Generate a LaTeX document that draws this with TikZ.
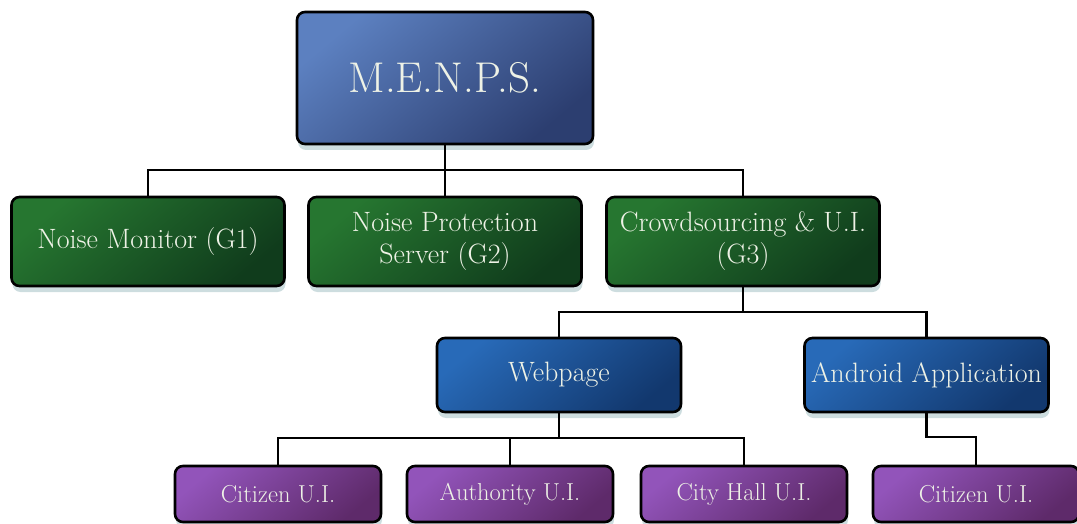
\documentclass[tikz,border=0pt]{standalone}
\usepackage{fontspec}
\usepackage{tikz}
\usetikzlibrary{shadows}

\definecolor{topA}{RGB}{92,128,192}
\definecolor{topB}{RGB}{44,62,112}
\definecolor{grnA}{RGB}{38,118,48}
\definecolor{grnB}{RGB}{16,60,28}
\definecolor{bluA}{RGB}{40,106,184}
\definecolor{bluB}{RGB}{18,56,110}
\definecolor{purA}{RGB}{146,84,186}
\definecolor{purB}{RGB}{94,42,106}
\definecolor{txt}{RGB}{238,242,230}
\definecolor{shd}{RGB}{130,170,175}

\tikzset{
  box/.style={draw=black, line width=2.6pt, rounded corners=8pt, inner sep=0pt,
    text=txt, align=center,
    drop shadow={shadow xshift=1pt, shadow yshift=-6pt, opacity=0.4, fill=shd}},
  topbox/.style={box, top color=topA, bottom color=topB, shading angle=40,
    minimum width=296pt, minimum height=132pt, font=\fontsize{43}{48}\selectfont},
  groupbox/.style={box, top color=grnA, bottom color=grnB, shading angle=40,
    minimum width=273pt, minimum height=89pt, font=\fontsize{28}{32}\selectfont},
  appbox/.style={box, top color=bluA, bottom color=bluB, shading angle=40,
    minimum width=244pt, minimum height=74pt, font=\fontsize{28}{32}\selectfont},
  uibox/.style={box, top color=purA, bottom color=purB, shading angle=40,
    minimum width=206pt, minimum height=56pt, font=\fontsize{24.5}{28}\selectfont},
  link/.style={draw=black, line width=2.6pt}
}

\begin{document}
\begin{tikzpicture}[x=1pt, y=-1pt]
    \useasboundingbox (0,0) rectangle (1077,524);

    % boxes
    \node[topbox] (menps) at (445,78) {M.E.N.P.S.};

    \node[groupbox] (g1) at (148,241.5) {Noise Monitor (G1)};
    \node[groupbox] (g2) at (445,241.5) {Noise Protection\\Server (G2)};
    \node[groupbox] (g3) at (743,241.5) {Crowdsourcing \& U.I.\\(G3)};

    \node[appbox] (web) at (559,375) {Webpage};
    \node[appbox] (android) at (926.5,375) {Android Application};

    \node[uibox] (cit1) at (278,494) {Citizen U.I.};
    \node[uibox] (auth) at (510,494) {Authority U.I.};
    \node[uibox] (city) at (744,494) {City Hall U.I.};
    \node[uibox] (cit2) at (976,494) {Citizen U.I.};

    % connectors
    \coordinate (bus1) at (445,170);
    \coordinate (bus2) at (743,312);
    \coordinate (bus3) at (559,438);
    \coordinate (bend) at (926.5,437);

    \draw[link] (menps.south) -- (g2.north);
    \draw[link] (g1.north) |- (bus1) -| (g3.north);

    \draw[link] (g3.south) -- (bus2);
    \draw[link] (web.north) |- (bus2) -| (android.north);

    \draw[link] (web.south) -- (bus3);
    \draw[link] (cit1.north) |- (bus3) -| (city.north);
    \draw[link] (auth.north) -- (auth.north |- bus3);

    \draw[link] (android.south) -- (bend) -| (cit2.north);
\end{tikzpicture}
\end{document}
